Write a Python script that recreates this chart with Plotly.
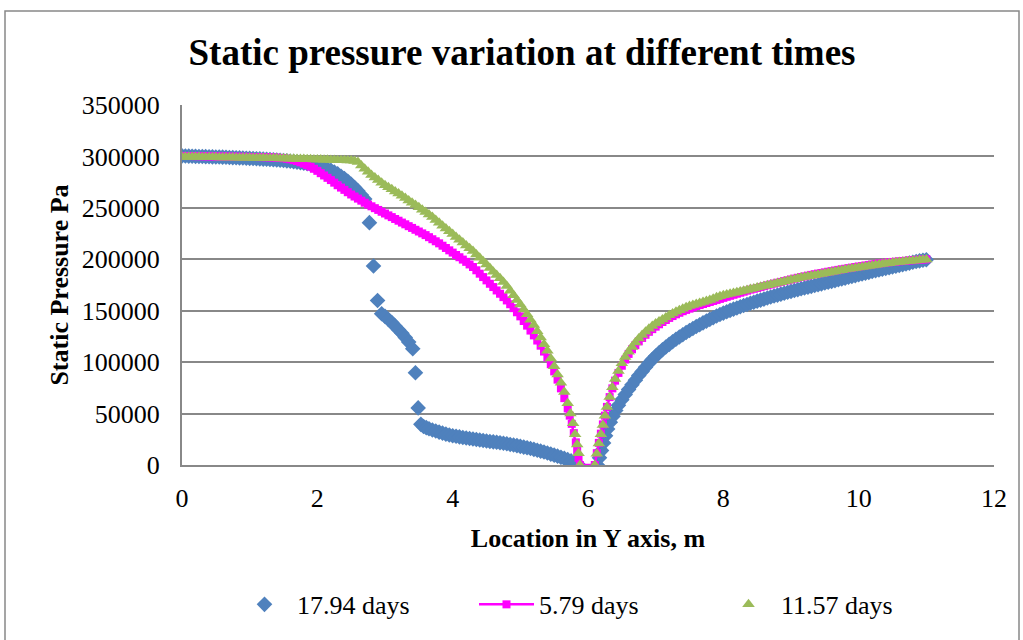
import plotly.graph_objects as go

# ---------------- data: (location m, static pressure Pa) ----------------
days_17_94 = [
    (0.00, 300500), (0.05, 300400), (0.10, 300300), (0.15, 300200), (0.20, 300100),
    (0.25, 300000), (0.30, 299900), (0.35, 299800), (0.40, 299700), (0.45, 299600),
    (0.50, 299500), (0.55, 299400), (0.60, 299300), (0.65, 299150), (0.70, 299000),
    (0.75, 298850), (0.80, 298700), (0.85, 298550), (0.90, 298400), (0.95, 298250),
    (1.00, 298100), (1.05, 297950), (1.10, 297800), (1.15, 297600), (1.20, 297400),
    (1.25, 297200), (1.30, 297000), (1.35, 296750), (1.40, 296500), (1.45, 296250),
    (1.50, 296000), (1.55, 295650), (1.60, 295300), (1.65, 294900), (1.70, 294500),
    (1.75, 294000), (1.80, 293500), (1.85, 292900), (1.90, 292300), (1.95, 291600),
    (2.00, 290800), (2.05, 289900), (2.10, 289000), (2.15, 287800), (2.20, 286500),
    (2.25, 284800), (2.30, 283000), (2.35, 280800), (2.40, 278500), (2.45, 275800),
    (2.50, 273000), (2.55, 269800), (2.60, 266500), (2.65, 262500), (2.70, 258500),
    (2.77, 235600), (2.83, 193500), (2.89, 160000), (2.95, 147000), (3.00, 144500),
    (3.05, 141500), (3.10, 138500), (3.15, 135000), (3.20, 131500), (3.25, 128000),
    (3.30, 124000), (3.35, 119500), (3.41, 113000), (3.45, 89700), (3.49, 55500),
    (3.53, 39500), (3.57, 37500), (3.61, 36300), (3.65, 35200), (3.70, 34000),
    (3.75, 33000), (3.80, 32000), (3.85, 31000), (3.90, 30000), (3.95, 29200),
    (4.00, 28500), (4.05, 27900), (4.10, 27300), (4.15, 26800), (4.20, 26300),
    (4.25, 25800), (4.30, 25300), (4.35, 24800), (4.40, 24300), (4.45, 23800),
    (4.50, 23300), (4.55, 22900), (4.60, 22500), (4.65, 22100), (4.70, 21600),
    (4.75, 21100), (4.80, 20600), (4.85, 20000), (4.90, 19400), (4.95, 18800),
    (5.00, 18100), (5.05, 17400), (5.10, 16700), (5.15, 16000), (5.20, 15200),
    (5.25, 14400), (5.30, 13500), (5.35, 12600), (5.40, 11600), (5.45, 10600),
    (5.50, 9600), (5.55, 8600), (5.60, 7500), (5.65, 6400), (5.70, 5200),
    (5.75, 4000), (5.80, 2600), (5.85, 1000),
    (6.14, 0), (6.17, 7000), (6.20, 14000), (6.23, 21500), (6.26, 28500),
    (6.29, 35000), (6.33, 41500), (6.37, 47500), (6.41, 53000), (6.45, 58000),
    (6.50, 63500), (6.55, 68500), (6.60, 73500), (6.65, 78000), (6.70, 82500),
    (6.75, 87000), (6.80, 91000), (6.85, 95000), (6.90, 99000), (6.95, 102500),
    (7.00, 106000), (7.05, 109000), (7.10, 112000), (7.15, 114700), (7.20, 117300),
    (7.25, 119800), (7.30, 122200), (7.35, 124500), (7.40, 126700), (7.45, 128800),
    (7.50, 130800), (7.55, 132700), (7.60, 134600), (7.65, 136400), (7.70, 138200),
    (7.75, 139900), (7.80, 141600), (7.85, 143200), (7.90, 144800), (7.95, 146300),
    (8.00, 147700), (8.05, 149000), (8.10, 150300), (8.15, 151500), (8.20, 152700),
    (8.25, 153900), (8.30, 155000), (8.35, 156100), (8.40, 157200), (8.45, 158300),
    (8.50, 159300), (8.55, 160300), (8.60, 161300), (8.65, 162300), (8.70, 163300),
    (8.75, 164300), (8.80, 165200), (8.85, 166100), (8.90, 167000), (8.95, 167900),
    (9.00, 168800), (9.05, 169700), (9.10, 170500), (9.15, 171300), (9.20, 172100),
    (9.25, 172900), (9.30, 173700), (9.35, 174500), (9.40, 175300), (9.45, 176100),
    (9.50, 176900), (9.55, 177700), (9.60, 178500), (9.65, 179300), (9.70, 180100),
    (9.75, 180900), (9.80, 181700), (9.85, 182500), (9.90, 183300), (9.95, 184100),
    (10.00, 184900), (10.05, 185700), (10.10, 186500), (10.15, 187300), (10.20, 188100),
    (10.25, 188900), (10.30, 189700), (10.35, 190400), (10.40, 191100), (10.45, 191800),
    (10.50, 192500), (10.55, 193200), (10.60, 193900), (10.65, 194700), (10.70, 195500),
    (10.75, 196300), (10.80, 197100), (10.85, 197800), (10.90, 198500), (10.95, 199100),
    (11.00, 199600),
]

days_5_79 = [
    (0.00, 300500), (0.05, 300450), (0.10, 300400), (0.15, 300350), (0.20, 300300),
    (0.25, 300250), (0.30, 300200), (0.35, 300150), (0.40, 300100), (0.45, 300050),
    (0.50, 300000), (0.55, 299950), (0.60, 299900), (0.65, 299850), (0.70, 299800),
    (0.75, 299750), (0.80, 299700), (0.85, 299650), (0.90, 299600), (0.95, 299550),
    (1.00, 299500), (1.05, 299450), (1.10, 299400), (1.15, 299350), (1.20, 299300),
    (1.25, 299200), (1.30, 299100), (1.35, 298950), (1.40, 298800), (1.45, 298550),
    (1.50, 298300), (1.55, 297800), (1.60, 297200), (1.65, 296400), (1.70, 295500),
    (1.75, 294300), (1.80, 293000), (1.85, 291500), (1.90, 290000), (1.95, 288000),
    (2.00, 286000), (2.05, 283700), (2.10, 281500), (2.15, 279200), (2.20, 277000),
    (2.25, 274500), (2.30, 272000), (2.35, 269700), (2.40, 267500), (2.45, 265200),
    (2.50, 263000), (2.55, 261000), (2.60, 259000), (2.65, 257000), (2.70, 255000),
    (2.75, 253200), (2.80, 251500), (2.85, 249700), (2.90, 248000), (2.95, 246200),
    (3.00, 244500), (3.05, 242700), (3.10, 241000), (3.15, 239200), (3.20, 237500),
    (3.25, 235700), (3.30, 234000), (3.35, 232200), (3.40, 230500), (3.45, 228700),
    (3.50, 227000), (3.55, 225200), (3.60, 223500), (3.65, 221500), (3.70, 219500),
    (3.75, 217500), (3.80, 215500), (3.85, 213200), (3.90, 211000), (3.95, 208700),
    (4.00, 206500), (4.05, 204200), (4.10, 202000), (4.15, 199700), (4.20, 197500),
    (4.25, 195000), (4.30, 192500), (4.35, 189300), (4.40, 186000), (4.45, 182700),
    (4.50, 179500), (4.55, 176200), (4.60, 173000), (4.65, 169700), (4.70, 166500),
    (4.75, 163200), (4.80, 160000), (4.85, 156300), (4.90, 152500), (4.95, 148500),
    (5.00, 144500), (5.05, 140000), (5.10, 135500), (5.15, 130700), (5.20, 126000),
    (5.25, 121000), (5.30, 116000), (5.35, 110300), (5.40, 104500), (5.45, 98000),
    (5.50, 91000), (5.55, 83000), (5.60, 74500), (5.65, 65000), (5.70, 55000),
    (5.73, 48000), (5.76, 40000), (5.79, 31000), (5.82, 22000), (5.84, 14000),
    (5.86, 7000), (5.88, 0),
    (6.10, 0), (6.13, 11500), (6.16, 21500), (6.19, 30500), (6.22, 39500),
    (6.25, 48000), (6.28, 56500), (6.32, 66000), (6.36, 74500), (6.40, 82000),
    (6.45, 89500), (6.50, 96500), (6.55, 102500), (6.60, 108000), (6.65, 112500),
    (6.70, 116500), (6.75, 120200), (6.80, 123500), (6.85, 126600), (6.90, 129500),
    (6.95, 132100), (7.00, 134500), (7.05, 136800), (7.10, 139000), (7.15, 141000),
    (7.20, 143000), (7.25, 144800), (7.30, 146500), (7.35, 148000), (7.40, 149500),
    (7.45, 150800), (7.50, 152000), (7.55, 153300), (7.60, 154500), (7.65, 155500),
    (7.70, 156500), (7.75, 157500), (7.80, 158500), (7.85, 159500), (7.90, 160500),
    (7.95, 161500), (8.00, 162500), (8.05, 163500), (8.10, 164500), (8.15, 165500),
    (8.20, 166500), (8.25, 167500), (8.30, 168500), (8.35, 169500), (8.40, 170500),
    (8.45, 171300), (8.50, 172100), (8.55, 173000), (8.60, 173900), (8.65, 174700),
    (8.70, 175500), (8.75, 176400), (8.80, 177200), (8.85, 178000), (8.90, 178800),
    (8.95, 179600), (9.00, 180400), (9.05, 181200), (9.10, 182000), (9.15, 182700),
    (9.20, 183400), (9.25, 184100), (9.30, 184800), (9.35, 185500), (9.40, 186100),
    (9.45, 186700), (9.50, 187300), (9.55, 187900), (9.60, 188500), (9.65, 189100),
    (9.70, 189700), (9.75, 190300), (9.80, 190800), (9.85, 191400), (9.90, 191900),
    (9.95, 192500), (10.00, 193000), (10.05, 193500), (10.10, 194000), (10.15, 194500),
    (10.20, 195000), (10.25, 195500), (10.30, 195900), (10.35, 196300), (10.40, 196700),
    (10.45, 197100), (10.50, 197400), (10.55, 197700), (10.60, 198000), (10.65, 198300),
    (10.70, 198600), (10.75, 198900), (10.80, 199100), (10.85, 199400), (10.90, 199600),
    (10.95, 199800), (11.00, 200000),
]

days_11_57 = [
    (0.00, 299500), (0.05, 299500), (0.10, 299500), (0.15, 299450), (0.20, 299400),
    (0.25, 299350), (0.30, 299300), (0.35, 299250), (0.40, 299200), (0.45, 299150),
    (0.50, 299100), (0.55, 299050), (0.60, 299000), (0.65, 298950), (0.70, 298900),
    (0.75, 298850), (0.80, 298800), (0.85, 298750), (0.90, 298700), (0.95, 298650),
    (1.00, 298600), (1.05, 298550), (1.10, 298500), (1.15, 298450), (1.20, 298400),
    (1.25, 298350), (1.30, 298300), (1.35, 298250), (1.40, 298200), (1.45, 298100),
    (1.50, 298000), (1.55, 297900), (1.60, 297800), (1.65, 297700), (1.70, 297600),
    (1.75, 297500), (1.80, 297400), (1.85, 297300), (1.90, 297200), (1.95, 297100),
    (2.00, 297000), (2.05, 296900), (2.10, 296800), (2.15, 296700), (2.20, 296600),
    (2.25, 296500), (2.30, 296400), (2.35, 296300), (2.40, 296200), (2.45, 296100),
    (2.50, 296000), (2.55, 295600), (2.60, 294500), (2.65, 291200), (2.70, 288000),
    (2.75, 285000), (2.80, 282000), (2.85, 279500), (2.90, 277000), (2.95, 274500),
    (3.00, 272000), (3.05, 270000), (3.10, 268000), (3.15, 266000), (3.20, 264000),
    (3.25, 261800), (3.30, 259500), (3.35, 257200), (3.40, 255000), (3.45, 252700),
    (3.50, 250500), (3.55, 248200), (3.60, 246000), (3.65, 243500), (3.70, 241000),
    (3.75, 238200), (3.80, 235500), (3.85, 232700), (3.90, 230000), (3.95, 227200),
    (4.00, 224500), (4.05, 221700), (4.10, 219000), (4.15, 216200), (4.20, 213500),
    (4.25, 210700), (4.30, 208000), (4.35, 204700), (4.40, 201500), (4.45, 198200),
    (4.50, 195000), (4.55, 191500), (4.60, 188000), (4.65, 184800), (4.70, 181500),
    (4.75, 178000), (4.80, 174000), (4.85, 169500), (4.90, 165000), (4.95, 160500),
    (5.00, 156000), (5.05, 151200), (5.10, 146500), (5.15, 141200), (5.20, 136000),
    (5.25, 130000), (5.30, 124000), (5.35, 117500), (5.40, 111000), (5.45, 103500),
    (5.50, 96000), (5.55, 88000), (5.60, 80000), (5.65, 71000), (5.70, 60000),
    (5.74, 50000), (5.78, 40500), (5.81, 30000), (5.84, 20000), (5.86, 11500),
    (5.88, 0),
    (6.10, 0), (6.13, 11000), (6.16, 21000), (6.19, 30000), (6.22, 39000),
    (6.25, 48000), (6.28, 56500), (6.32, 66000), (6.36, 75500), (6.40, 83500),
    (6.45, 91500), (6.50, 99000), (6.55, 105000), (6.60, 110000), (6.65, 114800),
    (6.70, 119000), (6.75, 123000), (6.80, 126500), (6.85, 129600), (6.90, 132500),
    (6.95, 135100), (7.00, 137500), (7.05, 139500), (7.10, 141500), (7.15, 143500),
    (7.20, 145500), (7.25, 147300), (7.30, 149000), (7.35, 150500), (7.40, 152000),
    (7.45, 153300), (7.50, 154500), (7.55, 155500), (7.60, 156500), (7.65, 157500),
    (7.70, 158500), (7.75, 159500), (7.80, 160500), (7.85, 161700), (7.90, 163000),
    (7.95, 164000), (8.00, 165000), (8.05, 165800), (8.10, 166500), (8.15, 167200),
    (8.20, 168000), (8.25, 168700), (8.30, 169500), (8.35, 170200), (8.40, 171000),
    (8.45, 171700), (8.50, 172500), (8.55, 173200), (8.60, 174000), (8.65, 174700),
    (8.70, 175500), (8.75, 176200), (8.80, 177000), (8.85, 177700), (8.90, 178500),
    (8.95, 179200), (9.00, 180000), (9.05, 180700), (9.10, 181500), (9.15, 182200),
    (9.20, 182800), (9.25, 183400), (9.30, 184000), (9.35, 184600), (9.40, 185200),
    (9.45, 185800), (9.50, 186400), (9.55, 187000), (9.60, 187600), (9.65, 188200),
    (9.70, 188800), (9.75, 189400), (9.80, 190000), (9.85, 190500), (9.90, 191000),
    (9.95, 191500), (10.00, 192000), (10.05, 192500), (10.10, 193000), (10.15, 193500),
    (10.20, 194000), (10.25, 194500), (10.30, 195000), (10.35, 195400), (10.40, 195800),
    (10.45, 196200), (10.50, 196600), (10.55, 197000), (10.60, 197400), (10.65, 197700),
    (10.70, 198000), (10.75, 198300), (10.80, 198600), (10.85, 198900), (10.90, 199200),
    (10.95, 199500), (11.00, 199800),
]

series_names = ["17.94 days", "5.79 days", "11.57 days"]
x_ticks = [0, 2, 4, 6, 8, 10, 12]
y_ticks = [0, 50000, 100000, 150000, 200000, 250000, 300000, 350000]

# ---------------- styling ----------------
BLUE = "#4F81BD"
PINK = "#FF00FF"
GREEN = "#9BBB59"
GRID = "#888888"
FONT = "Liberation Serif"


def xs(pts):
    return [p[0] for p in pts]


def ys(pts):
    return [p[1] for p in pts]


fig = go.Figure()
fig.add_trace(go.Scatter(x=xs(days_17_94), y=ys(days_17_94), name=series_names[0],
                         mode="markers",
                         marker=dict(symbol="diamond", size=12, color=BLUE)))
fig.add_trace(go.Scatter(x=xs(days_5_79), y=ys(days_5_79), name=series_names[1],
                         mode="lines+markers",
                         line=dict(color=PINK, width=2.5),
                         marker=dict(symbol="square", size=8, color=PINK)))
fig.add_trace(go.Scatter(x=xs(days_11_57), y=ys(days_11_57), name=series_names[2],
                         mode="markers",
                         marker=dict(symbol="triangle-up", size=11, color=GREEN)))

L, R, T, B = 182, 29, 105, 171
W, H = 1023, 640
pw, ph = W - L - R, H - T - B


def px_x(px):
    return (px - L) / pw


def px_y(py):
    return (H - B - py) / ph


fig.update_layout(
    width=W, height=H,
    margin=dict(l=L, r=R, t=T, b=B),
    paper_bgcolor="white", plot_bgcolor="white",
    font=dict(family=FONT, size=26, color="black"),
    title=dict(text="Static pressure variation at different times",
               font=dict(family=FONT, size=37, weight="bold", color="black"),
               x=522 / W, xanchor="center", xref="container",
               y=1 - 52 / H, yanchor="middle", yref="container"),
    xaxis=dict(range=[0, 12], tickvals=x_ticks, showgrid=False,
               showline=True, linecolor=GRID, linewidth=2, zeroline=False,
               ticks="", ticklabelstandoff=9,
               tickfont=dict(family=FONT, size=26, color="black"),
               title=dict(text="Location in Y axis, m", standoff=17,
                          font=dict(family=FONT, size=26, weight="bold", color="black"))),
    yaxis=dict(range=[0, 350000], tickvals=y_ticks, tickformat="d",
               showgrid=True, gridcolor=GRID, gridwidth=2,
               showline=True, linecolor=GRID, linewidth=2, zeroline=False,
               ticks="", ticklabelstandoff=15,
               tickfont=dict(family=FONT, size=26, color="black"),
               title=dict(text="Static Pressure Pa", standoff=6,
                          font=dict(family=FONT, size=26, weight="bold", color="black"))),
    legend=dict(orientation="h", x=px_x(232), xanchor="left",
                y=px_y(610), yanchor="middle",
                font=dict(family=FONT, size=26, color="black"),
                itemwidth=55, entrywidth=172,
                bgcolor="rgba(0,0,0,0)"),
    showlegend=True,
    shapes=[dict(type="rect", xref="paper", yref="paper",
                 x0=px_x(5), x1=px_x(1019), y0=px_y(700), y1=px_y(10),
                 line=dict(color=GRID, width=1.5), fillcolor="rgba(0,0,0,0)",
                 layer="below")],
)

fig.write_html("out.html")
